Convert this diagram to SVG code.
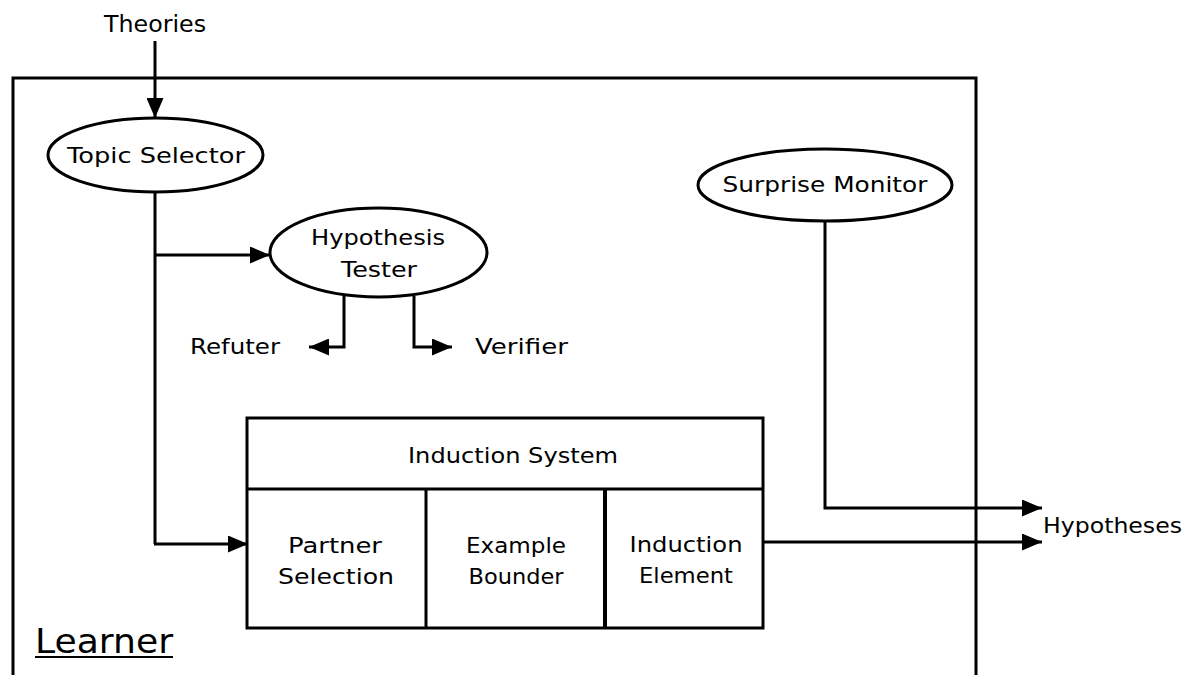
<svg xmlns="http://www.w3.org/2000/svg" width="1185" height="675" viewBox="0 0 1185 675">
  <defs>
    <marker id="arrow" viewBox="0 0 20 17" refX="20" refY="8.5" markerWidth="20" markerHeight="17" markerUnits="userSpaceOnUse" orient="auto">
      <path d="M0,0 L20,8.5 L0,17 Z" fill="#000"/>
    </marker>
  </defs>
  <style>
    .shape { fill: #fff; stroke: #000; stroke-width: 3; }
    .line { fill: none; stroke: #000; stroke-width: 3; }
    .wire { fill: none; stroke: #000; stroke-width: 3; marker-end: url(#arrow); }
    text { font-family: "DejaVu Sans", "Liberation Sans", sans-serif; font-size: 22px; fill: #000; }
    .mid { text-anchor: middle; }
    .title { font-size: 34px; }
    .input { font-size: 23px; }
  </style>

  <rect width="1185" height="675" fill="#fff"/>

  <!-- Learner enclosure (open at the bottom edge) -->
  <g id="learner">
    <path class="line" d="M13,680 L13,78 L976,78 L976,680"/>
    <text x="35" y="653" class="title" textLength="138" lengthAdjust="spacingAndGlyphs">Learner</text>
    <line x1="35" y1="657" x2="173" y2="657" stroke="#000" stroke-width="2"/>
  </g>

  <!-- Connectors -->
  <g id="connectors">
    <line class="wire" x1="155" y1="41" x2="155" y2="118"/>
    <path class="line" d="M155,192 L155,544"/>
    <path class="wire" d="M155,255 L270,255"/>
    <path class="wire" d="M154,544 L248,544"/>
    <path class="wire" d="M344,296 L344,347 L309,347"/>
    <path class="wire" d="M414,296 L414,347 L452,347"/>
    <path class="wire" d="M825,221 L825,508 L1042,508"/>
    <path class="wire" d="M763,542 L1042,542"/>
  </g>

  <!-- Input label -->
  <g id="theories">
    <text x="155" y="32" class="mid input" textLength="102" lengthAdjust="spacingAndGlyphs">Theories</text>
  </g>

  <g id="topic-selector">
    <ellipse class="shape" cx="155.5" cy="155" rx="107.5" ry="37"/>
    <text x="156" y="163" class="mid" textLength="178" lengthAdjust="spacingAndGlyphs">Topic Selector</text>
  </g>

  <g id="hypothesis-tester">
    <ellipse class="shape" cx="378.5" cy="252.5" rx="108.5" ry="44.5"/>
    <text x="378" y="245" class="mid" textLength="134" lengthAdjust="spacingAndGlyphs">Hypothesis</text>
    <text x="379" y="277" class="mid" textLength="76" lengthAdjust="spacingAndGlyphs">Tester</text>
  </g>

  <g id="refuter">
    <text x="190" y="354" textLength="90" lengthAdjust="spacingAndGlyphs">Refuter</text>
  </g>

  <g id="verifier">
    <text x="475" y="354" textLength="93" lengthAdjust="spacingAndGlyphs">Verifier</text>
  </g>

  <g id="surprise-monitor">
    <ellipse class="shape" cx="825" cy="185" rx="127" ry="36"/>
    <text x="825" y="192" class="mid" textLength="205" lengthAdjust="spacingAndGlyphs">Surprise Monitor</text>
  </g>

  <g id="induction-system">
    <rect class="shape" x="247" y="418" width="516" height="210"/>
    <line class="line" x1="247" y1="489" x2="763" y2="489"/>
    <line class="line" x1="426" y1="489" x2="426" y2="628"/>
    <line class="line" x1="605" y1="489" x2="605" y2="628" style="stroke-width:4"/>
    <text x="513" y="463" class="mid" textLength="210" lengthAdjust="spacingAndGlyphs">Induction System</text>
  </g>

  <g id="partner-selection">
    <text x="335" y="553" class="mid" textLength="94" lengthAdjust="spacingAndGlyphs">Partner</text>
    <text x="336" y="584" class="mid" textLength="116" lengthAdjust="spacingAndGlyphs">Selection</text>
  </g>

  <g id="example-bounder">
    <text x="516" y="553" class="mid" textLength="100" lengthAdjust="spacingAndGlyphs">Example</text>
    <text x="516" y="584" class="mid" textLength="95" lengthAdjust="spacingAndGlyphs">Bounder</text>
  </g>

  <g id="induction-element">
    <text x="686" y="552" class="mid" textLength="113" lengthAdjust="spacingAndGlyphs">Induction</text>
    <text x="686" y="583" class="mid" textLength="94" lengthAdjust="spacingAndGlyphs">Element</text>
  </g>

  <g id="hypotheses">
    <text x="1043" y="533" textLength="139" lengthAdjust="spacingAndGlyphs">Hypotheses</text>
  </g>
</svg>
